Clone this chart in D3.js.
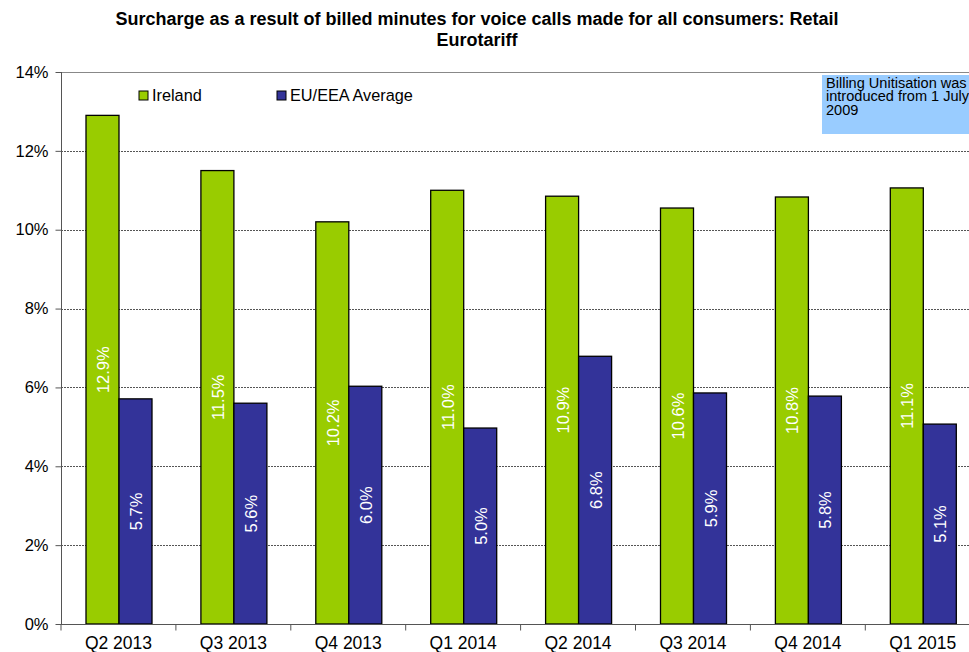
<!DOCTYPE html>
<html><head><meta charset="utf-8">
<script src="https://cdn.jsdelivr.net/npm/d3@7"></script>
<style>body{margin:0;background:#fff;}svg{display:block;font-family:"Liberation Sans",Arial,sans-serif;}</style>
</head><body><div id="chart"></div>
<script>
const categories = ["Q2 2013","Q3 2013","Q4 2013","Q1 2014","Q2 2014","Q3 2014","Q4 2014","Q1 2015"];
const ireland = [12.9,11.5,10.2,11.0,10.85,10.55,10.83,11.06];
const irelandLabels = ["12.9%","11.5%","10.2%","11.0%","10.9%","10.6%","10.8%","11.1%"];
const euAvg = [5.71,5.6,6.03,4.97,6.79,5.86,5.78,5.07];
const euLabels = ["5.7%","5.6%","6.0%","5.0%","6.8%","5.9%","5.8%","5.1%"];
const yTicks = [0,2,4,6,8,10,12,14];
const seriesNames = ["Ireland","EU/EEA Average"];
const colors = ["#99CC00","#333399"];
const titleLines = ["Surcharge as a result of billed minutes  for voice calls made for all consumers: Retail","Eurotariff"];
const noteLines = ["Billing Unitisation was","introduced from 1 July","2009"];

const W=969,H=652;
const svg=d3.select("#chart").append("svg").attr("width",W).attr("height",H);
const pLeft=61, pTop=72, pBottom=624, band=114.9;
const x=d3.scaleBand().domain(categories).range([pLeft,pLeft+band*categories.length]).paddingInner(0).paddingOuter(0);
const y=d3.scaleLinear().domain([0,14]).range([pBottom,pTop]);
const barW=33, offset=25;

// title
titleLines.forEach((t,i)=>{
  svg.append("text").attr("x",477).attr("y",25+i*21).attr("text-anchor","middle")
   .attr("font-weight","bold").attr("font-size",18).text(t);
});

// gridlines
svg.append("g").selectAll("line").data(yTicks.filter(d=>d>0&&d<14)).join("line")
 .attr("x1",pLeft).attr("x2",W).attr("y1",d=>Math.round(y(d))+0.5).attr("y2",d=>Math.round(y(d))+0.5)
 .attr("stroke","#555").attr("stroke-dasharray","2,1").attr("stroke-width",1);
// top border
svg.append("line").attr("x1",pLeft).attr("x2",W).attr("y1",pTop+0.5).attr("y2",pTop+0.5).attr("stroke","#888");

// bars
const g=svg.append("g");
categories.forEach((c,i)=>{
  [ireland[i],euAvg[i]].forEach((v,s)=>{
    const x0=x(c)+offset+s*barW;
    g.append("rect").attr("x",x0).attr("y",y(v)).attr("width",barW).attr("height",y(0)-y(v))
     .attr("fill",colors[s]).attr("stroke","#000").attr("stroke-width",1.3);
    const cy=(y(v)+y(0))/2, cx=x0+barW/2;
    g.append("text").attr("transform",`translate(${cx+6.5},${cy}) rotate(-90)`).attr("text-anchor","middle")
     .attr("fill","#fff").attr("font-size",16.5).text(s===0?irelandLabels[i]:euLabels[i]);
  });
});

// y axis
const ya=svg.append("g").attr("transform",`translate(${pLeft+0.5},0)`)
 .call(d3.axisLeft(y).tickValues(yTicks).tickFormat(d=>d+"%").tickSize(6).tickPadding(7));
ya.select(".domain").attr("stroke","#555").attr("d",`M-0,${pTop}V${pBottom}`);
ya.selectAll(".tick line").attr("stroke","#555");
ya.selectAll("text").attr("font-size",16.5).attr("fill","#000").attr("font-family","'Liberation Sans',Arial");

// x axis
const xa=svg.append("g").attr("transform",`translate(0,${pBottom+0.5})`);
xa.append("line").attr("x1",pLeft).attr("x2",W).attr("stroke","#555");
xa.selectAll("line.t").data(d3.range(categories.length+1)).join("line").attr("class","t")
 .attr("x1",i=>pLeft+i*band).attr("x2",i=>pLeft+i*band).attr("y1",0).attr("y2",6).attr("stroke","#555");
xa.selectAll("text").data(categories).join("text").attr("x",d=>x(d)+x.bandwidth()/2).attr("y",24)
 .attr("text-anchor","middle").attr("font-size",17.5).text(d=>d);

// legend
const lg=svg.append("g");
const lx=[139,277];
seriesNames.forEach((n,i)=>{
  lg.append("rect").attr("x",lx[i]).attr("y",91).attr("width",9).attr("height",9).attr("fill",colors[i]).attr("stroke","#000");
  lg.append("text").attr("x",lx[i]+13).attr("y",101).attr("font-size",16.3).text(n);
});

// annotation box
svg.append("rect").attr("x",822).attr("y",75).attr("width",150).attr("height",59).attr("fill","#99CCFF");
const ng=svg.append("g").attr("transform","translate(826,0) scale(1.04,1)");
noteLines.forEach((t,i)=>{
  ng.append("text").attr("x",0).attr("y",88+i*13.5).attr("font-size",14).text(t);
});
</script></body></html>
